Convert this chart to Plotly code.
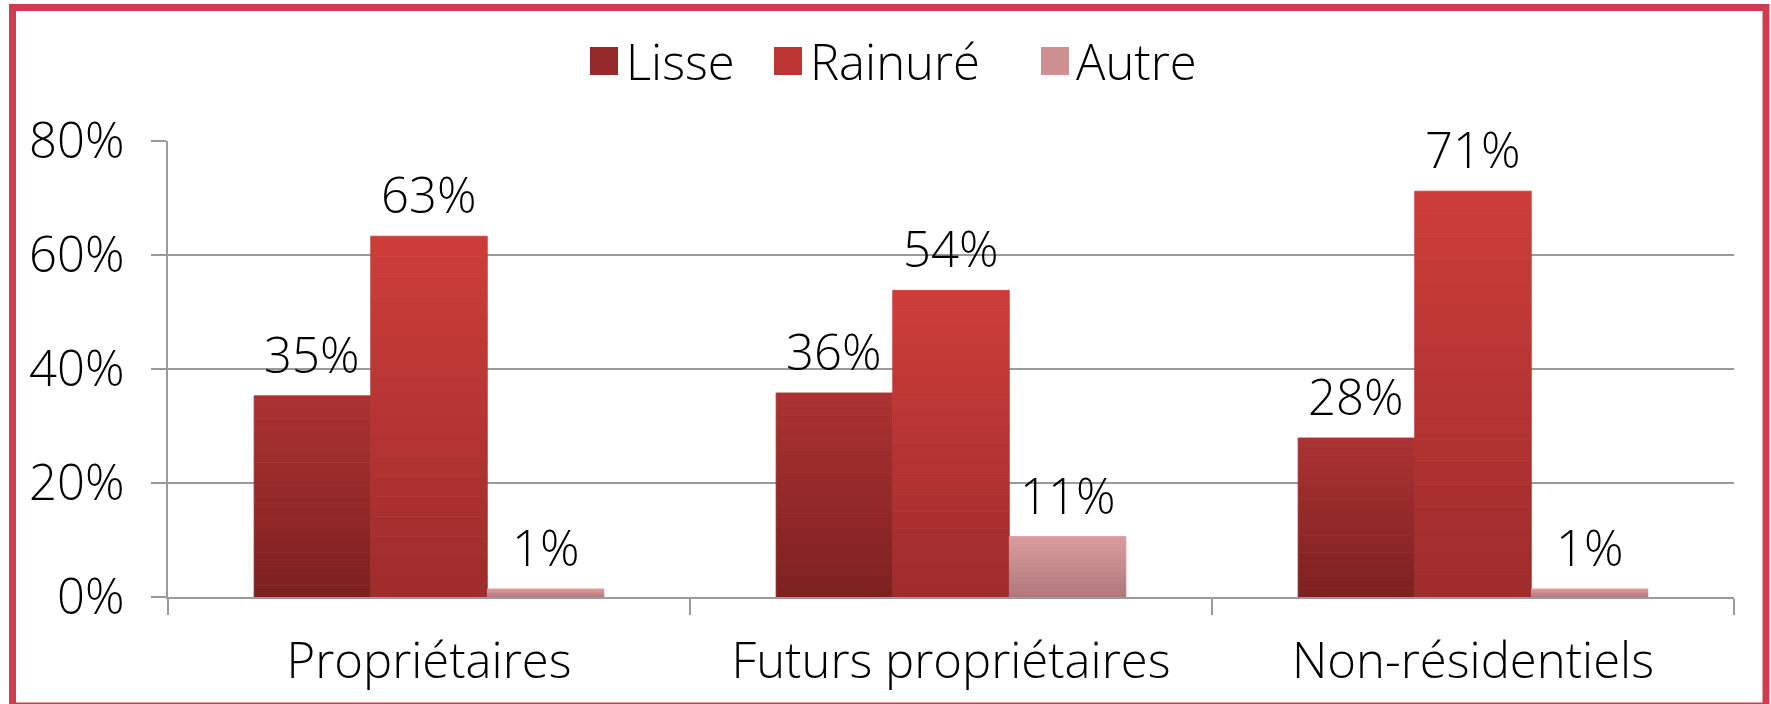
import plotly.graph_objects as go

# ---------------- data ----------------
categories = ["Propriétaires", "Futurs propriétaires", "Non-résidentiels"]
series_names = ["Lisse", "Rainuré", "Autre"]
lisse = [35.3, 35.8, 27.9]
rainure = [63.3, 53.8, 71.2]
autre = [1.4, 10.6, 1.4]
y_tickvals = [0, 20, 40, 60, 80]
y_ticktext = ["0%", "20%", "40%", "60%", "80%"]

series_values = [lisse, rainure, autre]
# gradient colours (bottom, top) per series
grad = [((0x7D, 0x20, 0x20), (0xAB, 0x33, 0x32)),
        ((0x9F, 0x2C, 0x2C), (0xCD, 0x3D, 0x3A)),
        ((0xAE, 0x78, 0x7A), (0xDA, 0x9C, 0x9E))]
legend_colors = ["#962A2A", "#BC3634", "#CF9092"]

# ---------------- layout geometry ----------------
W, H = 1771, 704
ML, MR, MT, MB = 168, 37, 141, 107
PW = W - ML - MR
PH = H - MT - MB
BARGAP = 0.33
FONT = "Open Sans"
FS = 49
FW = 300


def px_x(px):
    return (px - ML) / PW


def px_y(py):
    return (H - MB - py) / PH


def mix(c0, c1, t):
    return "rgb(%d,%d,%d)" % tuple(round(a + (b - a) * t) for a, b in zip(c0, c1))


fig = go.Figure()
N = 18
for si, (name, vals) in enumerate(zip(series_names, series_values)):
    c_bot, c_top = grad[si]
    for k in range(N):
        col = mix(c_bot, c_top, (k + 0.5) / N)
        fig.add_trace(go.Bar(
            x=categories,
            y=[v / N for v in vals],
            base=[v * k / N for v in vals],
            name=name,
            offsetgroup=name,
            legendgroup=name,
            showlegend=False,
            marker=dict(color=col, line=dict(color=col, width=0.8)),
            hovertemplate=name + " %{x}: " + "%{customdata:.0f}%<extra></extra>",
            customdata=vals,
        ))

txtfont = dict(family=FONT, size=FS, color="#000000", weight=FW)

annotations = []
bw = (1 - BARGAP) / len(series_names)
for si, vals in enumerate(series_values):
    for ci, v in enumerate(vals):
        annotations.append(dict(
            x=ci + (si - 1) * bw, y=v, xref="x", yref="y",
            text=f"{round(v)}%", showarrow=False,
            yanchor="bottom", xanchor="center", yshift=7,
            font=txtfont,
        ))

# manual legend (large squares like the original)
legend_sq_x = [590, 774, 1041]
legend_txt_x = [624, 808, 1074]
shapes = []
for name, col, sx, tx in zip(series_names, legend_colors, legend_sq_x, legend_txt_x):
    shapes.append(dict(type="rect", xref="paper", yref="paper",
                       x0=px_x(sx), x1=px_x(sx + 28), y0=px_y(75), y1=px_y(47),
                       fillcolor=col, line=dict(width=0)))
    annotations.append(dict(x=px_x(tx), y=px_y(61), xref="paper", yref="paper",
                            text=name, showarrow=False, xanchor="left", yanchor="middle",
                            font=txtfont))

# outer red frame
shapes.append(dict(type="rect", xref="paper", yref="paper",
                   x0=px_x(12.5), x1=px_x(1766), y0=px_y(706), y1=px_y(7.5),
                   line=dict(color="#D13B4F", width=7), fillcolor="rgba(0,0,0,0)",
                   layer="above"))

fig.update_layout(
    width=W, height=H,
    margin=dict(l=ML, r=MR, t=MT, b=MB),
    paper_bgcolor="white", plot_bgcolor="white",
    barmode="group", bargap=BARGAP, bargroupgap=0,
    showlegend=False,
    font=txtfont,
    xaxis=dict(
        type="category", tickson="boundaries", ticks="outside", ticklen=16,
        tickcolor="#9A9A9A", tickwidth=1.5, showgrid=False, showline=True,
        linecolor="#9A9A9A", linewidth=1.5, ticklabelstandoff=20,
        tickfont=txtfont,
    ),
    yaxis=dict(
        range=[0, 80], tickvals=y_tickvals, ticktext=y_ticktext,
        ticks="outside", ticklen=15, tickcolor="#9A9A9A", tickwidth=1.5,
        showgrid=True, gridcolor="#9A9A9A", gridwidth=1.5,
        showline=True, linecolor="#9A9A9A", linewidth=1.5,
        zeroline=False, ticklabelstandoff=17,
        tickfont=txtfont,
    ),
    annotations=annotations,
    shapes=shapes,
)

fig.write_html("out.html", config={"displayModeBar": False},
               post_script="document.body.style.margin='0';")
